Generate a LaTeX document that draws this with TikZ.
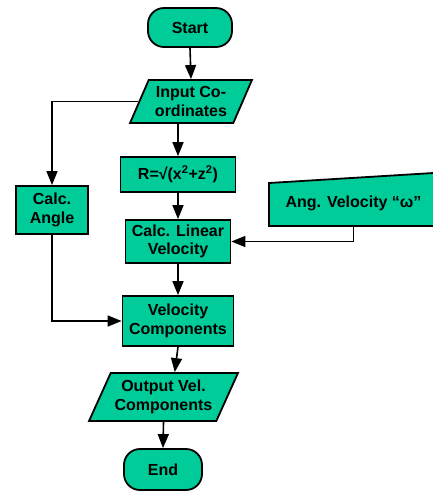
\documentclass[tikz,border=0pt]{standalone}
\usepackage{fontspec}
\setmainfont{Liberation Sans}
\usetikzlibrary{arrows.meta, shapes.geometric, positioning}
\definecolor{boxgreen}{RGB}{0,204,153}

\begin{document}
\begin{tikzpicture}[x=1pt, y=-1pt,
  every node/.style={font=\fontsize{16}{18.5}\selectfont\bfseries, align=center, inner sep=0pt},
  terminal/.style={draw, line width=1.8pt, fill=boxgreen, rounded corners=16pt},
  process/.style={draw, line width=1.8pt, fill=boxgreen, rectangle},
  io/.style={draw, line width=1.8pt, fill=boxgreen, trapezium, trapezium stretches=true},
  flowline/.style={line width=1.6pt, -{Triangle[length=14pt, width=11pt]}}]
  \useasboundingbox (0,0) rectangle (433,491);
  % Main column
  \node[terminal, minimum width=84pt, minimum height=39pt] (start) at (190,27.5) {Start};
  \node[io, trapezium left angle=62, trapezium right angle=118,
        minimum width=122pt, minimum height=43pt] (inp) at (191,101.5) {Input Co-\\ordinates};
  \node[process, minimum width=115pt, minimum height=35pt] (rbox) at (178,174.5) {R=√(x\textsuperscript{2}+z\textsuperscript{2})};
  \node[process, minimum width=105pt, minimum height=43pt] (clv) at (178,241.5) {Calc. Linear\\Velocity};
  \node[process, minimum width=111pt, minimum height=50pt] (vc) at (178,321) {Velocity\\Components};
  \node[io, trapezium left angle=59, trapezium right angle=121,
        minimum width=149pt, minimum height=48pt] (out) at (163.5,397) {Output Vel.\\Components};
  \node[terminal, minimum width=78pt, minimum height=41pt] (end) at (163,469.5) {End};
  % Side boxes
  \node[process, minimum width=72pt, minimum height=48pt] (angle) at (52,210) {Calc.\\Angle};
  \draw[line width=1.8pt, fill=boxgreen] (269,183) -- (445,172.3) -- (445,226) -- (269,226) -- cycle;
  \node[minimum height=46pt] (angvel) at (353.5,203) {Ang. Velocity “ω”};
  % Connectors
  \draw[flowline] (start.south) -- (inp.north);
  \draw[flowline] (rbox.north |- inp.south) -- (rbox.north);
  \draw[flowline] (rbox.south) -- (clv.north);
  \draw[flowline] (clv.south) -- (vc.north);
  \draw[flowline] (vc.south) -- (out.top side);
  \draw[flowline] (out.south) -- (end.north);
  \draw[flowline] (inp.west) -| (angle.north);
  \draw[flowline] (angle.south) |- (vc.west);
  \draw[flowline] (angvel.south) |- (clv.east);
\end{tikzpicture}
\end{document}
